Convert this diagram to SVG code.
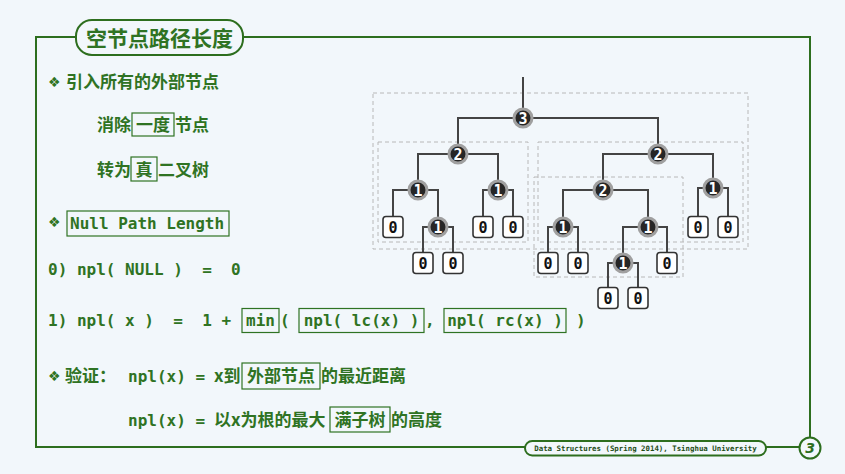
<svg xmlns="http://www.w3.org/2000/svg" width="845" height="474" viewBox="0 0 845 474">
  <style>
    .bg { fill: #f2f7fb; }
    .frame { fill: none; stroke: #2d6e1e; stroke-width: 2; }
    .pill { fill: #f2f7fb; stroke: #2d6e1e; stroke-width: 2; }
    .cn { font-family: "Noto Sans CJK SC", "Noto Sans", sans-serif; font-weight: bold; font-size: 17px; fill: #2f7323; }
    .mono { font-family: "DejaVu Sans Mono", "Liberation Mono", monospace; font-weight: bold; font-size: 16px; fill: #2f7323; white-space: pre; }
    .bullet { font-family: "DejaVu Sans", sans-serif; font-size: 14px; font-weight: bold; fill: #2f7323; }
    .tbox { fill: none; stroke: #2f7323; stroke-width: 1.2; }
    .dash { fill: none; stroke: #b8b8b8; stroke-width: 1; stroke-dasharray: 4 3; }
    .edge { fill: none; stroke: #444; stroke-width: 2; }
    .node circle { fill: #262626; stroke: #a0a0a0; stroke-width: 3; }
    .node text { font-family: "DejaVu Sans Mono", monospace; font-weight: bold; font-size: 15px; fill: #fff; text-anchor: middle; }
    .leaf rect { fill: #fff; stroke: #333; stroke-width: 1.6; }
    .leaf text { font-family: "DejaVu Sans Mono", monospace; font-weight: bold; font-size: 15px; fill: #111; text-anchor: middle; }
  </style>

  <rect class="bg" x="0" y="0" width="845" height="474"/>

  <!-- page frame with title tab, footer tab and page number -->
  <g id="frame">
    <path class="frame" d="M76,37 H36 V447 H525 M766,447 H799.5 M810,437.5 V37 H243"/>
    <rect class="pill" x="76" y="20" width="167" height="35" rx="16"/>
    <text x="159.5" y="46" text-anchor="middle" font-family="Noto Sans CJK SC, sans-serif" font-weight="bold" font-size="21" fill="#2f7323">空节点路径长度</text>
    <rect class="pill" x="525" y="441" width="241" height="14.5" rx="7.25"/>
    <text x="645.5" y="451.2" text-anchor="middle" font-family="DejaVu Sans Mono, monospace" font-weight="bold" font-size="7.4" fill="#244d19">Data Structures (Spring 2014), Tsinghua University</text>
    <circle cx="810" cy="448" r="10.5" fill="#f2f7fb" stroke="#2d6e1e" stroke-width="2"/>
    <text x="810" y="453" text-anchor="middle" font-family="DejaVu Sans, sans-serif" font-style="italic" font-weight="bold" font-size="14" fill="#2d6e1e">3</text>
  </g>

  <!-- left-hand text -->
  <g id="text">
    <text class="bullet" x="48" y="87">❖</text>
    <text class="cn" x="66" y="88" font-size="17.5">引入所有的外部节点</text>

    <text class="cn" x="97" y="131">消除</text>
    <rect class="tbox" x="132" y="113" width="42" height="23"/>
    <text class="cn" x="153" y="131" text-anchor="middle">一度</text>
    <text class="cn" x="175" y="131">节点</text>

    <text class="cn" x="97" y="176">转为</text>
    <rect class="tbox" x="131" y="157" width="26" height="24"/>
    <text class="cn" x="144" y="176" text-anchor="middle">真</text>
    <text class="cn" x="158" y="176">二叉树</text>

    <text class="bullet" x="48" y="227">❖</text>
    <rect class="tbox" x="67" y="211" width="162" height="25"/>
    <text class="mono" x="70" y="229">Null Path Length</text>

    <text class="mono" x="48" y="274.5">0) npl( NULL )  =  0</text>

    <text class="mono" x="48" y="326">1) npl( x )  =  1 +</text>
    <rect class="tbox" x="242" y="308.5" width="37" height="24"/>
    <text class="mono" x="260.5" y="326" text-anchor="middle">min</text>
    <text class="mono" x="280" y="326">(</text>
    <rect class="tbox" x="299" y="308.5" width="125" height="24"/>
    <text class="mono" x="361.5" y="326" text-anchor="middle">npl( lc(x) )</text>
    <text class="mono" x="425" y="326">,</text>
    <rect class="tbox" x="444" y="308.5" width="122" height="24"/>
    <text class="mono" x="505" y="326" text-anchor="middle">npl( rc(x) )</text>
    <text class="mono" x="576" y="326">)</text>

    <text class="bullet" x="48" y="381">❖</text>
    <text class="cn" x="65" y="382">验证：</text>
    <text class="mono" x="128" y="381.5">npl(x) = </text>
    <text class="cn" x="214" y="382">x到</text>
    <rect class="tbox" x="242" y="363" width="78" height="26"/>
    <text class="cn" x="281" y="382" text-anchor="middle">外部节点</text>
    <text class="cn" x="321" y="382">的最近距离</text>

    <text class="mono" x="128" y="425.5">npl(x) = </text>
    <text class="cn" x="214" y="426">以x为根的最大</text>
    <rect class="tbox" x="330" y="407" width="60" height="25"/>
    <text class="cn" x="360" y="426" text-anchor="middle">满子树</text>
    <text class="cn" x="391" y="426">的高度</text>
  </g>

  <!-- subtree outlines -->
  <g id="subtrees">
    <rect class="dash" x="373" y="93" width="375" height="156"/>
    <rect class="dash" x="378" y="142" width="150" height="100"/>
    <rect class="dash" x="538" y="142" width="205" height="100"/>
    <rect class="dash" x="534" y="177" width="149" height="100"/>
  </g>

  <!-- connectors -->
  <g id="edges">
    <path class="edge" d="M523,77 V118"/>
    <path class="edge" d="M458,154 V118 H658 V154"/>
    <path class="edge" d="M418,190 V154 H498 V190"/>
    <path class="edge" d="M603,190 V154 H713 V188"/>
    <path class="edge" d="M393,227 V190 H438 V227"/>
    <path class="edge" d="M483,227 V190 H513 V227"/>
    <path class="edge" d="M563,227 V190 H648 V227"/>
    <path class="edge" d="M698,227 V188 H728 V227"/>
    <path class="edge" d="M423,263 V227 H453 V263"/>
    <path class="edge" d="M548,263 V227 H578 V263"/>
    <path class="edge" d="M623,263 V227 H667 V263"/>
    <path class="edge" d="M608,298 V263 H638 V298"/>
  </g>

  <!-- internal nodes -->
  <g id="n-a" class="node"><circle cx="523" cy="118" r="9"/><text x="523" y="123.5">3</text></g>
  <g id="n-b" class="node"><circle cx="458" cy="154" r="9"/><text x="458" y="159.5">2</text></g>
  <g id="n-c" class="node"><circle cx="658" cy="154" r="9"/><text x="658" y="159.5">2</text></g>
  <g id="n-d" class="node"><circle cx="418" cy="190" r="9"/><text x="418" y="195.5">1</text></g>
  <g id="n-e" class="node"><circle cx="498" cy="190" r="9"/><text x="498" y="195.5">1</text></g>
  <g id="n-f" class="node"><circle cx="603" cy="190" r="9"/><text x="603" y="195.5">2</text></g>
  <g id="n-g" class="node"><circle cx="713" cy="188" r="9"/><text x="713" y="193.5">1</text></g>
  <g id="n-h" class="node"><circle cx="438" cy="227" r="9"/><text x="438" y="232.5">1</text></g>
  <g id="n-i" class="node"><circle cx="563" cy="227" r="9"/><text x="563" y="232.5">1</text></g>
  <g id="n-j" class="node"><circle cx="648" cy="227" r="9"/><text x="648" y="232.5">1</text></g>
  <g id="n-k" class="node"><circle cx="623" cy="263" r="9"/><text x="623" y="268.5">1</text></g>

  <!-- external (null) nodes -->
  <g id="x-1" class="leaf"><rect x="383" y="216.5" width="20" height="21" rx="3"/><text x="393" y="232.5">0</text></g>
  <g id="x-2" class="leaf"><rect x="413" y="252.5" width="20" height="21" rx="3"/><text x="423" y="268.5">0</text></g>
  <g id="x-3" class="leaf"><rect x="443" y="252.5" width="20" height="21" rx="3"/><text x="453" y="268.5">0</text></g>
  <g id="x-4" class="leaf"><rect x="473" y="216.5" width="20" height="21" rx="3"/><text x="483" y="232.5">0</text></g>
  <g id="x-5" class="leaf"><rect x="503" y="216.5" width="20" height="21" rx="3"/><text x="513" y="232.5">0</text></g>
  <g id="x-6" class="leaf"><rect x="538" y="252.5" width="20" height="21" rx="3"/><text x="548" y="268.5">0</text></g>
  <g id="x-7" class="leaf"><rect x="568" y="252.5" width="20" height="21" rx="3"/><text x="578" y="268.5">0</text></g>
  <g id="x-8" class="leaf"><rect x="657" y="252.5" width="20" height="21" rx="3"/><text x="667" y="268.5">0</text></g>
  <g id="x-9" class="leaf"><rect x="598" y="287.5" width="20" height="21" rx="3"/><text x="608" y="303.5">0</text></g>
  <g id="x-10" class="leaf"><rect x="628" y="287.5" width="20" height="21" rx="3"/><text x="638" y="303.5">0</text></g>
  <g id="x-11" class="leaf"><rect x="688" y="216.5" width="20" height="21" rx="3"/><text x="698" y="232.5">0</text></g>
  <g id="x-12" class="leaf"><rect x="718" y="216.5" width="20" height="21" rx="3"/><text x="728" y="232.5">0</text></g>
</svg>
